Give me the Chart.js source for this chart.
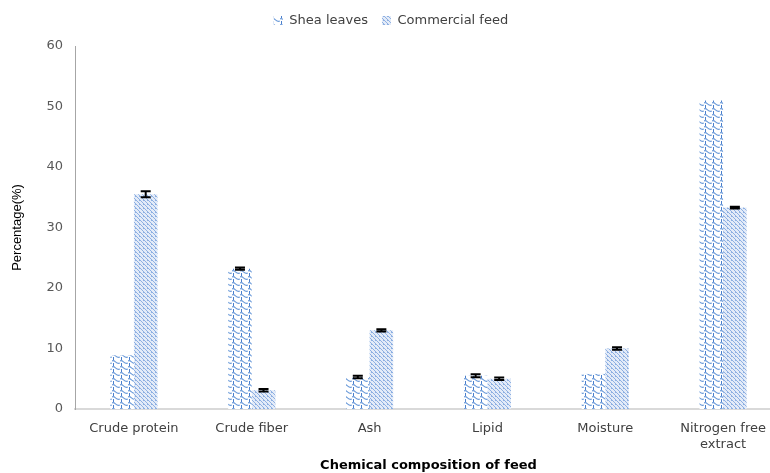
<!DOCTYPE html>
<html>
<head>
<meta charset="utf-8">
<script src="https://cdn.jsdelivr.net/npm/chart.js@4/dist/chart.umd.min.js"></script>
<style>
  html, body { margin: 0; padding: 0; background: #fff; overflow: hidden; }
  #wrap { width: 782px; height: 473px; }
</style>
</head>
<body>
<div id="wrap"><canvas id="chart" width="782" height="473"></canvas></div>
<script>
const categories = ["Crude protein", "Crude fiber", "Ash", "Lipid", "Moisture", ["Nitrogen free", "extract"]];
const sheaLeaves = [8.9, 23.2, 5.3, 5.5, 5.8, 51.0];
const commercialFeed = [35.5, 3.1, 13.0, 5.0, 10.0, 33.3];
const sheaErr = [0, 0.2, 0.2, 0.25, 0, 0];
const commercialErr = [0.5, 0.2, 0.2, 0.2, 0.2, 0.15];
const yTicks = [0, 10, 20, 30, 40, 50, 60];

function wavePattern() {
  const c = document.createElement("canvas");
  c.width = 8; c.height = 6;
  const g = c.getContext("2d");
  g.fillStyle = "#fff";
  g.fillRect(0, 0, 8, 6);
  g.strokeStyle = "#6a9ad9";
  g.lineWidth = 1.1;
  g.beginPath();
  g.moveTo(0, 1);
  g.bezierCurveTo(3, -1, 4, 5, 8, 3);
  g.stroke();
  g.fillStyle = "#4a7fcc";
  g.fillRect(1, 3, 1, 3);
  return g.createPattern(c, "repeat");
}

function hatchPattern() {
  const c = document.createElement("canvas");
  c.width = 4; c.height = 4;
  const g = c.getContext("2d");
  g.fillStyle = "#e3ebf8";
  g.fillRect(0, 0, 4, 4);
  g.fillStyle = "#8eb0e2";
  for (let i = 0; i < 4; i++) g.fillRect(i, i, 1, 1);
  g.fillRect(3, 0, 1, 1);
  return g.createPattern(c, "repeat");
}

const legendGap = {
  id: "legendGap",
  afterInit(chart) {
    const fit = chart.legend.fit;
    chart.legend.fit = function () { fit.call(this); this.height += 9; };
  }
};

const errorBars = {
  id: "errorBars",
  afterDatasetsDraw(chart) {
    const ctx = chart.ctx;
    const y = chart.scales.y;
    const errs = [sheaErr, commercialErr];
    ctx.save();
    ctx.strokeStyle = "#000";
    ctx.lineWidth = 2;
    chart.data.datasets.forEach((ds, i) => {
      chart.getDatasetMeta(i).data.forEach((bar, j) => {
        const e = errs[i][j];
        if (!e) return;
        const v = ds.data[j];
        const top = y.getPixelForValue(v + e);
        const bot = y.getPixelForValue(v - e);
        ctx.beginPath();
        ctx.moveTo(bar.x, top); ctx.lineTo(bar.x, bot);
        ctx.moveTo(bar.x - 5, top); ctx.lineTo(bar.x + 5, top);
        ctx.moveTo(bar.x - 5, bot); ctx.lineTo(bar.x + 5, bot);
        ctx.stroke();
      });
    });
    ctx.restore();
  }
};

const font = { family: "'DejaVu Sans', sans-serif", size: 13 };

new Chart(document.getElementById("chart").getContext("2d"), {
  type: "bar",
  data: {
    labels: categories,
    datasets: [
      { label: "Shea leaves", data: sheaLeaves, backgroundColor: wavePattern(), borderWidth: 0 },
      { label: "Commercial feed", data: commercialFeed, backgroundColor: hatchPattern(), borderWidth: 0 }
    ]
  },
  plugins: [legendGap, errorBars],
  options: {
    responsive: false,
    animation: false,
    layout: { padding: { top: 0, left: 0, right: 0, bottom: 0 } },
    datasets: { bar: { categoryPercentage: 0.4, barPercentage: 1 } },
    plugins: {
      tooltip: { enabled: false },
      legend: {
        position: "top",
        labels: { boxWidth: 9, boxHeight: 9, padding: 14, color: "#404040", font: font }
      }
    },
    scales: {
      x: {
        grid: { display: false, drawTicks: false },
        border: { color: "#d9d9d9", width: 2 },
        ticks: { color: "#404040", font: font, padding: 12, maxRotation: 0, autoSkip: false },
        title: { display: true, text: "Chemical composition of feed", color: "#000",
                 font: { family: "'DejaVu Sans', sans-serif", size: 13, weight: "bold" }, padding: { top: 8, bottom: 0 } },
        afterFit(s) { s.height = 64; }
      },
      y: {
        min: 0, max: 60,
        afterBuildTicks(s) { s.ticks = yTicks.map(v => ({ value: v })); },
        grid: { display: false, drawOnChartArea: false, drawTicks: true, tickLength: 6, color: "#a6a6a6" },
        border: { color: "#a6a6a6", width: 1 },
        ticks: { color: "#595959", font: font, padding: 6 },
        title: { display: true, text: "Percentage(%)", color: "#000",
                 font: { family: "'Liberation Sans Narrow', 'Liberation Sans', sans-serif", size: 13 }, padding: { top: 10, bottom: 0 } },
        afterFit(s) { s.width = 75; }
      }
    }
  }
});
</script>
</body>
</html>
